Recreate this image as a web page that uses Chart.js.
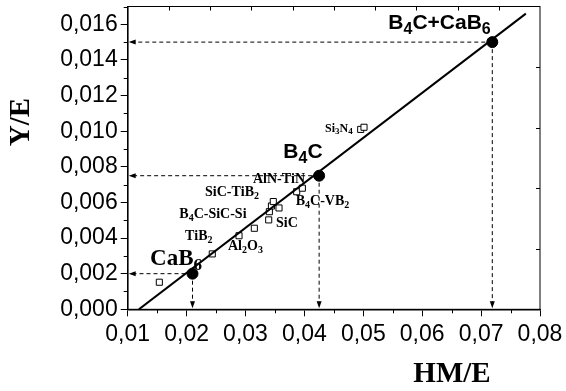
<!DOCTYPE html>
<html>
<head>
<meta charset="utf-8">
<script src="https://cdn.jsdelivr.net/npm/chart.js@4/dist/chart.umd.min.js"></script>
<style>
  html, body { margin: 0; padding: 0; background: #fff; }
  #wrap { width: 566px; height: 391px; }
</style>
</head>
<body>
<div id="wrap"><canvas id="c"></canvas></div>
<script>
// measured ceramics (open squares)
const sampleHmE = [0.01537, 0.02436, 0.0289, 0.0315, 0.03394, 0.03405, 0.0344, 0.03472, 0.03569, 0.03869, 0.03965, 0.04956, 0.05012];
const sampleYE  = [0.00152, 0.00311, 0.00413, 0.00455, 0.00502, 0.00548, 0.0058, 0.00605, 0.00569, 0.0066, 0.0068, 0.0101, 0.01022];

// borides of interest (filled dots)
const keyNames = ['CaB_6', 'B_4C', 'B_4C+CaB_6'];
const keyHmE = [0.021, 0.0425, 0.0719];
const keyYE  = [0.002, 0.0075, 0.015];

// straight fit line, end points
const fitHmE = [0.0119, 0.0776];
const fitYE  = [0, 0.0166];

// axis ranges and tick values
const xRange = [0.01, 0.08];
const yRange = [0, 0.017];
const xTicks = [0.01, 0.02, 0.03, 0.04, 0.05, 0.06, 0.07, 0.08];
const yTicks = [0, 0.002, 0.004, 0.006, 0.008, 0.010, 0.012, 0.014, 0.016];

const SANS = "'Liberation Sans', Arial, sans-serif";
const SERIF = "'Liberation Serif', 'Times New Roman', serif";

// text labels: anchor in data units, '_' marks a subscript char
const notes = [
  { t: 'B_4C+CaB_6', x: 0.05425, y: 0.01571, font: SANS, size: 21 },
  { t: 'B_4C',       x: 0.03642, y: 0.00847, font: SANS, size: 21 },
  { t: 'CaB_6',      x: 0.01379, y: 0.00249, font: SERIF, size: 23 },
  { t: 'AlN-TiN',    x: 0.03127, y: 0.00709, font: SERIF, size: 14 },
  { t: 'SiC-TiB_2',  x: 0.02312, y: 0.00638, font: SERIF, size: 14 },
  { t: 'B_4C-SiC-Si',x: 0.01876, y: 0.00511, font: SERIF, size: 14 },
  { t: 'TiB_2',      x: 0.01973, y: 0.00389, font: SERIF, size: 14 },
  { t: 'Al_2O_3',    x: 0.02703, y: 0.00333, font: SERIF, size: 14 },
  { t: 'SiC',        x: 0.03518, y: 0.00464, font: SERIF, size: 14 },
  { t: 'B_4C-VB_2',  x: 0.03852, y: 0.00585, font: SERIF, size: 14 },
  { t: 'Si_3N_4',    x: 0.0435,  y: 0.00997, font: SERIF, size: 12 }
];

function drawRich(ctx, str, x, y, family, size) {
  let cx = x;
  for (let i = 0; i < str.length; i++) {
    let ch = str[i];
    let sub = false;
    if (ch === '_') { sub = true; ch = str[++i]; }
    const fs = sub ? Math.round(size * 0.74) : size;
    ctx.font = 'bold ' + fs + 'px ' + family;
    ctx.fillText(ch, cx, sub ? y + size * 0.22 : y);
    cx += ctx.measureText(ch).width;
  }
}

function arrowHead(ctx, x, y, dir) {
  // dir: 'left' or 'down', tip at (x, y)
  ctx.beginPath();
  if (dir === 'left') {
    ctx.moveTo(x, y);
    ctx.lineTo(x + 7, y - 2.5);
    ctx.lineTo(x + 7, y + 2.5);
  } else {
    ctx.moveTo(x, y);
    ctx.lineTo(x - 2.5, y - 7);
    ctx.lineTo(x + 2.5, y - 7);
  }
  ctx.closePath();
  ctx.fill();
}

const decor = {
  id: 'decor',
  beforeDatasetsDraw(chart) {
    const { ctx, chartArea: a, scales: { x, y } } = chart;
    ctx.save();
    ctx.strokeStyle = '#000';
    ctx.fillStyle = '#000';
    ctx.lineWidth = 1;
    for (let i = 0; i < keyHmE.length; i++) {
      const px = x.getPixelForValue(keyHmE[i]);
      const py = y.getPixelForValue(keyYE[i]);
      ctx.setLineDash([4, 3]);
      ctx.beginPath();
      ctx.moveTo(px, py);
      ctx.lineTo(a.left + 6, py);
      ctx.moveTo(px, py);
      ctx.lineTo(px, a.bottom - 6);
      ctx.stroke();
      ctx.setLineDash([]);
      arrowHead(ctx, a.left + 1, py, 'left');
      arrowHead(ctx, px, a.bottom - 1, 'down');
    }
    ctx.restore();
  },
  afterDraw(chart) {
    const { ctx, chartArea: a, scales: { x, y } } = chart;
    ctx.save();
    ctx.strokeStyle = '#000';
    ctx.fillStyle = '#000';

    // box frame
    ctx.lineWidth = 1;
    ctx.strokeRect(a.left, a.top, a.right - a.left, a.bottom - a.top);

    // minor ticks halfway between the major ones, outward
    ctx.beginPath();
    for (let i = 0; i < xTicks.length - 1; i++) {
      const px = Math.round(x.getPixelForValue((xTicks[i] + xTicks[i + 1]) / 2)) + 0.5;
      ctx.moveTo(px, a.bottom);
      ctx.lineTo(px, a.bottom + 4);
    }
    for (let i = 0; i < yTicks.length; i++) {
      const v = yTicks[i] + (yTicks[1] - yTicks[0]) / 2;
      if (v > yRange[1]) break;
      const py = Math.round(y.getPixelForValue(v)) + 0.5;
      ctx.moveTo(a.left, py);
      ctx.lineTo(a.left - 4, py);
    }
    // inward ticks of the top and right frame
    const w = a.right - a.left;
    for (let k = 1; k < 10; k++) {
      const px = Math.round(a.left + w * k / 10) + 0.5;
      ctx.moveTo(px, a.top);
      ctx.lineTo(px, a.top + 4);
    }
    for (let k = 1; k < 5; k++) {
      const py = Math.round(a.bottom - 60.6 * k) + 0.5;
      if (py <= a.top) break;
      ctx.moveTo(a.right, py);
      ctx.lineTo(a.right - 4, py);
    }
    ctx.stroke();

    // labels
    ctx.textBaseline = 'alphabetic';
    ctx.textAlign = 'left';
    notes.forEach(n => {
      drawRich(ctx, n.t, x.getPixelForValue(n.x), y.getPixelForValue(n.y), n.font, n.size);
    });

    // axis titles
    ctx.font = 'bold 29px ' + SERIF;
    ctx.textAlign = 'center';
    ctx.textBaseline = 'middle';
    ctx.fillText('HM/E', 452, 375);
    ctx.translate(22, 122);
    ctx.rotate(-Math.PI / 2);
    ctx.fillText('Y/E', 0, 0);
    ctx.restore();
  }
};

const fitData = fitHmE.map((v, i) => ({ x: v, y: fitYE[i] }));
const sampleData = sampleHmE.map((v, i) => ({ x: v, y: sampleYE[i] }));
const keyData = keyHmE.map((v, i) => ({ x: v, y: keyYE[i] }));

const tickFont = { family: SANS, size: 23 };

new Chart(document.getElementById('c'), {
  type: 'scatter',
  data: {
    datasets: [
      {
        label: 'fit',
        data: fitData,
        showLine: true,
        borderColor: '#000',
        borderWidth: 2,
        pointRadius: 0
      },
      {
        label: 'ceramics',
        data: sampleData,
        pointStyle: 'rect',
        pointRadius: 4.3,
        pointBackgroundColor: '#fff',
        pointBorderColor: '#000',
        pointBorderWidth: 1
      },
      {
        label: keyNames.join(', '),
        data: keyData,
        pointStyle: 'circle',
        pointRadius: 5.5,
        pointBackgroundColor: '#000',
        pointBorderColor: '#000'
      }
    ]
  },
  options: {
    responsive: true,
    maintainAspectRatio: false,
    animation: false,
    layout: { padding: { top: 6.3, right: 26, left: 0, bottom: 0 } },
    plugins: {
      legend: { display: false },
      tooltip: { enabled: false }
    },
    scales: {
      x: {
        type: 'linear',
        min: xRange[0],
        max: xRange[1],
        afterBuildTicks: s => { s.ticks = xTicks.map(v => ({ value: v })); },
        grid: { drawOnChartArea: false, tickLength: 7, color: '#000', tickColor: '#000' },
        border: { color: '#000', width: 1.5 },
        ticks: {
          color: '#000',
          font: tickFont,
          padding: 5,
          maxRotation: 0,
          callback: v => v.toFixed(2).replace('.', ',')
        },
        afterFit: s => { s.height = 81.7; s.paddingLeft = 0; s.paddingRight = 0; }
      },
      y: {
        type: 'linear',
        min: yRange[0],
        max: yRange[1],
        afterBuildTicks: s => { s.ticks = yTicks.map(v => ({ value: v })); },
        grid: { drawOnChartArea: false, tickLength: 7, color: '#000', tickColor: '#000' },
        border: { color: '#000', width: 1.5 },
        ticks: {
          color: '#000',
          font: tickFont,
          padding: 3,
          callback: v => v.toFixed(3).replace('.', ',')
        },
        afterFit: s => { s.width = 127.7; s.paddingTop = 0; s.paddingBottom = 0; }
      }
    }
  },
  plugins: [decor]
});
</script>
</body>
</html>
